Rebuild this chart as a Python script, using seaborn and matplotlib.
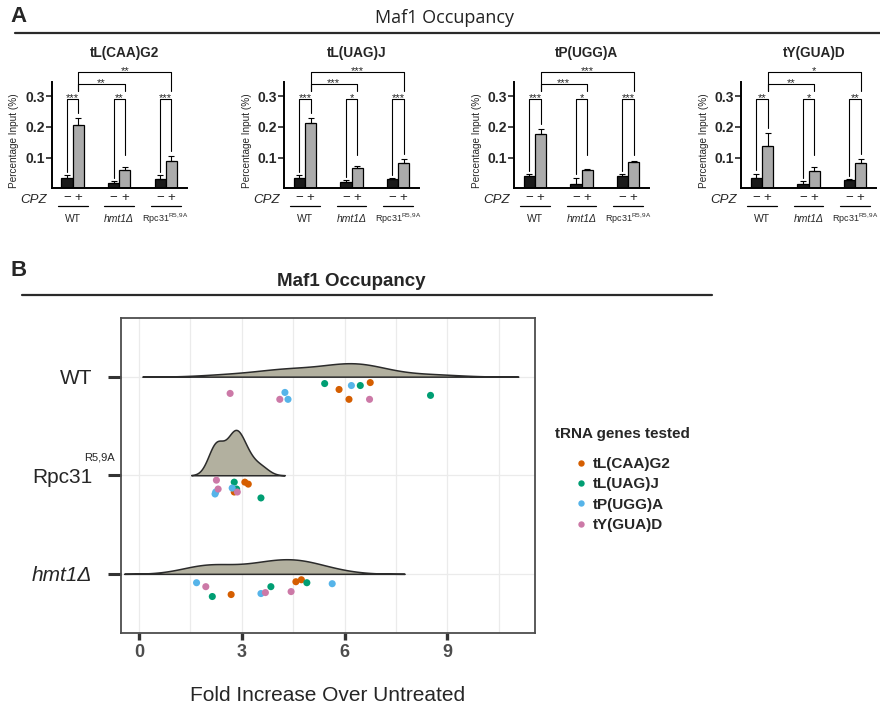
import numpy as np
import pandas as pd
import matplotlib
matplotlib.use("Agg")
import matplotlib.pyplot as plt
import matplotlib.transforms as mtransforms
from matplotlib.lines import Line2D
import seaborn as sns

# ---------------- data ----------------
genes = ["tL(CAA)G2", "tL(UAG)J", "tP(UGG)A", "tY(GUA)D"]
groups_a = ["WT", "hmt1", "Rpc31"]
cpz_levels = ["\u2212", "+"]

# percentage input, rows = genes, cols = WT, hmt1, Rpc31
minus_mean = [[0.033, 0.016, 0.030], [0.033, 0.020, 0.030],
              [0.041, 0.015, 0.040], [0.032, 0.014, 0.026]]
minus_err = [[0.009, 0.007, 0.012], [0.009, 0.006, 0.002],
             [0.006, 0.020, 0.006], [0.016, 0.010, 0.005]]
plus_mean = [[0.205, 0.059, 0.089], [0.213, 0.066, 0.083],
             [0.178, 0.059, 0.086], [0.139, 0.055, 0.083]]
plus_err = [[0.025, 0.011, 0.016], [0.017, 0.008, 0.014],
            [0.016, 0.004, 0.002], [0.041, 0.015, 0.014]]
pair_stars = [["***", "**", "***"], ["***", "*", "***"],
              ["***", "*", "***"], ["**", "*", "**"]]
cross_stars = [["**", "**"], ["***", "***"], ["***", "***"], ["**", "*"]]

# panel B: fold increase, 3 replicates per gene (order of genes list)
strains_b = ["WT", "Rpc31", "hmt1"]
wt_fold = [5.84, 6.13, 6.75, 5.42, 6.46, 8.51, 4.26, 4.35, 6.20, 2.66, 4.11, 6.73]
rpc_fold = [3.09, 3.19, 2.78, 2.78, 2.85, 3.56, 2.72, 2.24, 2.22, 2.26, 2.31, 2.87]
hmt_fold = [2.69, 4.58, 4.74, 2.14, 3.85, 4.90, 1.68, 3.56, 5.64, 1.95, 3.69, 4.44]
wt_jit = [0.13, 0.23, 0.06, 0.07, 0.09, 0.19, 0.16, 0.23, 0.09, 0.17, 0.23, 0.23]
rpc_jit = [0.07, 0.09, 0.17, 0.07, 0.14, 0.23, 0.13, 0.17, 0.19, 0.05, 0.14, 0.17]
hmt_jit = [0.21, 0.08, 0.06, 0.23, 0.13, 0.09, 0.09, 0.20, 0.10, 0.13, 0.19, 0.18]
gene_colors = ["#D55E00", "#009E73", "#56B4E9", "#CC79A7"]

# ---------------- style ----------------
sns.set_theme(style="white")
plt.rcParams['font.family'] = ['Liberation Sans', 'DejaVu Sans']
plt.rcParams['mathtext.fontset'] = 'custom'
plt.rcParams['mathtext.rm'] = 'Liberation Sans'
plt.rcParams['mathtext.it'] = 'Liberation Sans:italic'
plt.rcParams['mathtext.bf'] = 'Liberation Sans:bold'

W, H = 880, 711
fig = plt.figure(figsize=(W / 100, H / 100), dpi=100)

def px(x0, y_bottom, w, h):
    return [x0 / W, 1 - y_bottom / H, w / W, h / H]

# ---------------- panel A ----------------
fig.text(10 / W, 1 - 17 / H, "A", fontsize=16, fontweight="bold", va="center")
fig.text(444 / W, 1 - 18 / H, "Maf1 Occupancy", fontsize=13, ha="center",
         va="center", family=["Open Sans", "DejaVu Sans"], color="#222222")
fig.add_artist(Line2D([15 / W, 1], [1 - 33 / H] * 2, lw=1.6, color="#2a2a2a"))

a_left = [51.7, 284, 514, 741]
group_labels = ["WT", "hmt1\u0394", r"Rpc31$^{\mathregular{R5,9A}}$"]
off = 0.12

for i, gene in enumerate(genes):
    ax = fig.add_axes(px(a_left[i], 188.3, 135, 129))
    df = pd.DataFrame({
        "strain": groups_a * 2,
        "cpz": [cpz_levels[0]] * 3 + [cpz_levels[1]] * 3,
        "value": minus_mean[i] + plus_mean[i],
    })
    sns.barplot(data=df, x="strain", y="value", hue="cpz", order=groups_a,
                hue_order=cpz_levels, palette=["#1a1a1a", "#ababab"],
                width=0.48, errorbar=None, edgecolor="black", linewidth=0.9,
                saturation=1, legend=False, ax=ax)
    g = np.arange(3)
    ax.errorbar(g - off, minus_mean[i], yerr=[np.zeros(3), minus_err[i]],
                fmt="none", ecolor="black", elinewidth=0.8, capsize=2, capthick=0.8)
    ax.errorbar(g + off, plus_mean[i], yerr=[np.zeros(3), plus_err[i]],
                fmt="none", ecolor="black", elinewidth=0.8, capsize=2, capthick=0.8)

    # brackets within each strain
    for k in range(3):
        lo = minus_mean[i][k] + minus_err[i][k] + 0.01
        hi = max(plus_mean[i][k] + plus_err[i][k] + 0.015, 0.11)
        ax.plot([k - off, k - off, k + off, k + off], [lo, 0.29, 0.29, hi],
                color="black", lw=0.8, clip_on=False)
        ax.text(k, 0.283, pair_stars[i][k], ha="center", va="baseline", fontsize=8)
    # brackets WT vs mutants
    for k, yb in zip([1, 2], [0.34, 0.38]):
        ax.plot([off, off, k + off, k + off], [0.318, yb, yb, 0.318],
                color="black", lw=0.8, clip_on=False)
        ax.text((off + k + off) / 2, yb - 0.007, cross_stars[i][k - 1],
                ha="center", va="baseline", fontsize=8)

    ax.set_xlim(-0.45, 2.45)
    ax.set_ylim(0, 0.42)
    for s in ["top", "right"]:
        ax.spines[s].set_visible(False)
    ax.spines["left"].set_bounds(0, 0.347)
    for s in ["left", "bottom"]:
        ax.spines[s].set_linewidth(1.4)
        ax.spines[s].set_color("black")
    ax.set_yticks([0.1, 0.2, 0.3], ["0.1", "0.2", "0.3"])
    ax.tick_params(axis="y", direction="out", length=4, width=1.2, pad=1,
                   labelsize=10, left=True)
    for t in ax.get_yticklabels():
        t.set_fontweight("bold")
    ax.set_xticks(np.concatenate([g - off, g + off]),
                  [cpz_levels[0]] * 3 + [cpz_levels[1]] * 3)
    ax.tick_params(axis="x", length=0, pad=2.5, labelsize=9.5)
    ax.set_xlabel("")
    ax.set_ylabel("Percentage Input (%)", fontsize=7.2)
    ax.yaxis.set_label_coords(-0.24, 0.37)

    tr = mtransforms.blended_transform_factory(ax.transData, ax.transAxes)
    ax.text(-0.131, -0.091, "CPZ", transform=ax.transAxes, ha="center",
            va="center", fontsize=9.5, fontstyle="italic")
    for k in range(3):
        ax.plot([k - 0.32, k + 0.32], [-0.135, -0.135], transform=tr,
                color="black", lw=0.9, clip_on=False)
        ax.text(k, -0.238, group_labels[k], transform=tr, ha="center", va="center",
                fontsize=7.5 if k < 2 else 6.5,
                fontstyle="italic" if k == 1 else "normal")
    ax.text(0.54, 1.05, gene, transform=ax.transAxes, ha="center", va="center",
            fontsize=9.8, fontweight="bold")

# ---------------- panel B ----------------
fig.text(10 / W, 1 - 270 / H, "B", fontsize=16, fontweight="bold", va="center")
fig.text(351 / W, 1 - 281 / H, "Maf1 Occupancy", fontsize=13.5,
         fontweight="bold", ha="center", va="center")
fig.add_artist(Line2D([22 / W, 712 / W], [1 - 295 / H] * 2, lw=1.6, color="#2a2a2a"))

gene_col = [gname for gname in genes for _ in range(3)]
df_b = pd.DataFrame({
    "strain": ["WT"] * 12 + ["Rpc31"] * 12 + ["hmt1"] * 12,
    "gene": gene_col * 3,
    "fold": wt_fold + rpc_fold + hmt_fold,
    "jitter": wt_jit + rpc_jit + hmt_jit,
})
df_b["pos"] = df_b["strain"].map({s: j for j, s in enumerate(strains_b)})
df_b["ypt"] = df_b["pos"] + df_b["jitter"]
vwidth = 0.46
# seaborn puts the flat side of a hue-less split violin at pos + width/2
df_b["vpos"] = df_b["pos"] - vwidth / 2

axb = fig.add_axes(px(120.5, 633, 414.5, 315.5))
sns.violinplot(data=df_b, x="fold", y="vpos", orient="h", native_scale=True,
               split=True, inner=None, cut=3, bw_adjust=0.9, density_norm="area",
               width=vwidth, color="#b2b09f", linecolor="#2b2b2b", linewidth=1.1,
               saturation=1, ax=axb)
sns.scatterplot(data=df_b, x="fold", y="ypt", hue="gene", hue_order=genes,
                palette=gene_colors, s=26, linewidth=0, zorder=3, ax=axb)

axb.set_xlim(-0.54, 11.56)
axb.set_ylim(2.60, -0.60)
axb.set_xticks([0, 3, 6, 9])
axb.set_xticks([1.5, 4.5, 7.5, 10.5], minor=True)
axb.grid(True, which="both", axis="x", color="#ebebeb", lw=0.9)
axb.set_yticks([0, 1, 2], ["WT", "Rpc31", "hmt1\u0394"])
axb.grid(True, which="major", axis="y", color="#ebebeb", lw=0.9)
axb.set_axisbelow(True)
axb.get_yticklabels()[2].set_fontstyle("italic")
axb.tick_params(axis="y", which="major", direction="out", length=9.5, width=2.2,
                color="#333333", pad=11, labelsize=15, left=True)
axb.tick_params(axis="x", which="major", direction="out", length=5, width=2.4,
                color="#333333", pad=3, labelsize=13, labelcolor="#4d4d4d", bottom=True)
axb.tick_params(axis="x", which="minor", length=0)
for t in axb.get_xticklabels():
    t.set_fontweight("bold")
for s in axb.spines.values():
    s.set_visible(True)
    s.set_color("#4d4d4d")
    s.set_linewidth(1.3)
axb.set_ylabel("")
axb.set_xlabel("Fold Increase Over Untreated", fontsize=15, labelpad=18)
trb = mtransforms.blended_transform_factory(axb.transAxes, axb.transData)
axb.text(-0.013, 0.82, "R5,9A", transform=trb, ha="right", va="center", fontsize=8)

handles, labels = axb.get_legend_handles_labels()
axb.legend(handles, labels, loc="upper left",
           bbox_to_anchor=(569 / W, 1 - 457 / H), bbox_transform=fig.transFigure,
           frameon=False, prop=dict(weight="bold", size=11),
           labelspacing=0.42, handlelength=1.57, handletextpad=0.0,
           markerscale=0.9, borderpad=0, borderaxespad=0)
fig.text(622 / W, 1 - 434 / H, "tRNA genes tested", fontsize=11,
         fontweight="bold", ha="center", va="center")

fig.savefig("out.png", dpi=100)
